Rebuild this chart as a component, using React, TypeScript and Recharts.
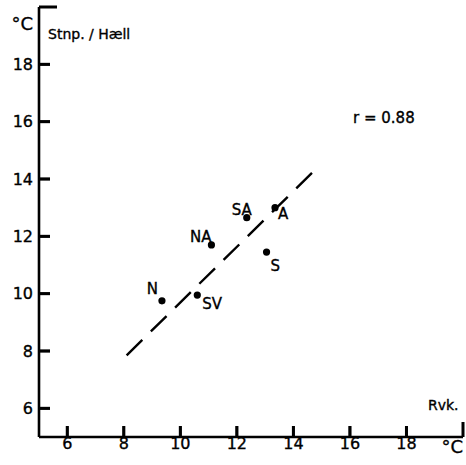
import { ScatterChart, Scatter, XAxis, YAxis, ReferenceLine } from "recharts";

document.body.style.margin = "0";

// mean temperatures (°C) at Reykjavík vs. Stnp./Hæll, by wind direction
const stations = ["N", "SV", "NA", "SA", "A", "S"];
const rvkTemp = [9.35, 10.6, 11.1, 12.35, 13.35, 13.05];
const haellTemp = [9.75, 9.95, 11.7, 12.65, 13.0, 11.45];
const axisTicks = [6, 8, 10, 12, 14, 16, 18, 20];
const fitStart = { x: 8.1, y: 7.85 };
const fitEnd = { x: 14.8, y: 14.35 };
const corrText = "r = 0.88";

const AXIS_MIN = 5;
const AXIS_MAX = 20;

const data = stations.map((name, i) => ({ name, x: rvkTemp[i], y: haellTemp[i] }));
const innerTicks = axisTicks.filter((v) => v !== AXIS_MAX);
// anchors for the inward tick marks on both axes
const xTickMarks = innerTicks.map((v) => ({ x: v, y: AXIS_MIN }));
const yTickMarks = innerTicks.map((v) => ({ x: AXIS_MIN, y: v }));
const xEndMark = [{ x: AXIS_MAX, y: AXIS_MIN }];
const yEndMark = [{ x: AXIS_MIN, y: AXIS_MAX }];

const FONT = "'DejaVu Sans', sans-serif";
const txt = { fontFamily: FONT, fill: "#000", stroke: "#000", strokeWidth: 0.35 };

const labelPos: Record<string, { dx: number; dy: number; anchor: "start" | "middle" | "end" }> = {
  N: { dx: -4, dy: -7, anchor: "end" },
  SV: { dx: 5, dy: 14, anchor: "start" },
  NA: { dx: 0, dy: -3, anchor: "end" },
  SA: { dx: -5, dy: -3, anchor: "middle" },
  A: { dx: 3, dy: 11, anchor: "start" },
  S: { dx: 4, dy: 19, anchor: "start" },
};

function StationDot(props: any) {
  const { cx, cy, payload } = props;
  const p = labelPos[payload.name];
  return (
    <g>
      <circle cx={cx} cy={cy} r={3.6} fill="#000" />
      <text x={cx + p.dx} y={cy + p.dy} textAnchor={p.anchor} fontSize={15} {...txt}>
        {payload.name}
      </text>
    </g>
  );
}

function XMark(props: any) {
  return <rect x={props.cx - 1.5} y={props.cy - 11} width={3} height={11} fill="#000" />;
}
function XEnd(props: any) {
  return <rect x={props.cx - 1.5} y={props.cy - 15} width={3} height={15} fill="#000" />;
}
function YMark(props: any) {
  return <rect x={props.cx} y={props.cy - 1.5} width={11} height={3} fill="#000" />;
}
function YEnd(props: any) {
  return <rect x={props.cx} y={props.cy - 1.5} width={18} height={3} fill="#000" />;
}

const tickFmt = (v: number) => (v === AXIS_MAX ? "" : String(v));
const tickStyle = { fill: "#000", fontSize: 16, fontFamily: FONT, stroke: "#000", strokeWidth: 0.35 };

export default function App() {
  return (
    <div style={{ width: 466, height: 465, background: "#fff" }}>
      <ScatterChart width={466} height={465} margin={{ top: 7, right: 3, bottom: 0, left: 0 }}>
        <XAxis
          type="number"
          dataKey="x"
          domain={[AXIS_MIN, AXIS_MAX]}
          ticks={axisTicks}
          interval={0}
          height={28}
          tickLine={{ stroke: "none" }}
          tickMargin={-5}
          tick={tickStyle}
          tickFormatter={tickFmt}
          axisLine={{ stroke: "#000", strokeWidth: 2.6 }}
        />
        <YAxis
          type="number"
          dataKey="y"
          domain={[AXIS_MIN, AXIS_MAX]}
          ticks={axisTicks}
          interval={0}
          width={39}
          tickLine={{ stroke: "none" }}
          tickMargin={0}
          tick={tickStyle}
          tickFormatter={tickFmt}
          axisLine={{ stroke: "#000", strokeWidth: 2.6 }}
        />
        {innerTicks.map((v) => (
          <ReferenceLine
            key={`rx-${v}`}
            segment={[{ x: v, y: AXIS_MIN }, { x: v, y: AXIS_MIN + 0.38 }]}
            stroke="#000"
            strokeWidth={2.5}
            ifOverflow="visible"
          />
        ))}
        {innerTicks.map((v) => (
          <ReferenceLine
            key={`ry-${v}`}
            segment={[{ x: AXIS_MIN, y: v }, { x: AXIS_MIN + 0.39, y: v }]}
            stroke="#000"
            strokeWidth={2.5}
            ifOverflow="visible"
          />
        ))}
        <Scatter data={xTickMarks} shape={<XMark />} isAnimationActive={false} />
        <Scatter data={yTickMarks} shape={<YMark />} isAnimationActive={false} />
        <Scatter data={xEndMark} shape={<XEnd />} isAnimationActive={false} />
        <Scatter data={yEndMark} shape={<YEnd />} isAnimationActive={false} />
        <ReferenceLine
          segment={[fitStart, fitEnd]}
          stroke="#000"
          strokeWidth={2.4}
          strokeDasharray="22 12"
        />
        <Scatter data={data} shape={<StationDot />} isAnimationActive={false} />
        <text x={33} y={30} textAnchor="end" fontSize={18} {...txt}>°C</text>
        <text x={463} y={453} textAnchor="end" fontSize={18} {...txt}>°C</text>
        <text x={48} y={39} fontSize={14} {...txt}>Stnp. / Hæll</text>
        <text x={353} y={123} fontSize={15} {...txt}>{corrText}</text>
        <text x={428} y={410} fontSize={14} {...txt}>Rvk.</text>
      </ScatterChart>
    </div>
  );
}
